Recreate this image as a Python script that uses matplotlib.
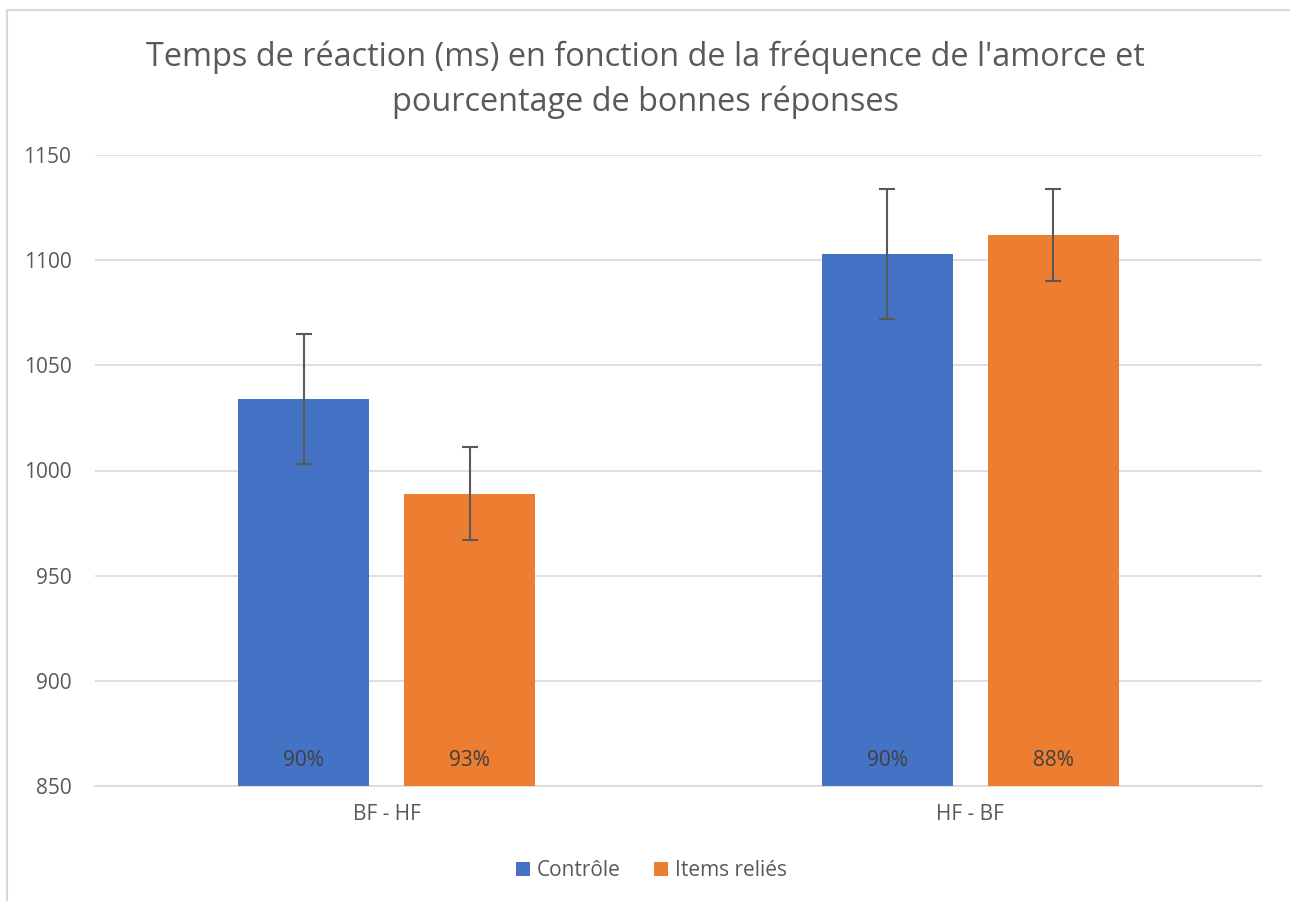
import numpy as np
import matplotlib
matplotlib.use("Agg")
import matplotlib.pyplot as plt
from matplotlib.patches import Rectangle

plt.rcParams['font.family'] = ['Open Sans', 'DejaVu Sans']

# data
categories = ['BF - HF', 'HF - BF']
series     = ['Contrôle', 'Items reliés']
controle   = [1034, 1103]
items      = [989, 1112]
err_ctrl   = [31, 31]
err_items  = [22, 22]
pct_ctrl   = ['90%', '90%']
pct_items  = ['93%', '88%']
yticks     = [850, 900, 950, 1000, 1050, 1100, 1150]

blue, orange = '#4472C4', '#ED7D31'
grey = '#595959'

fig = plt.figure(figsize=(12.9, 9.01), dpi=100)
ax = fig.add_axes([95/1290, 1-786/901, (1262-95)/1290, (786-155)/901])

# chart border (cropped on right/bottom)
fig.patches.append(Rectangle((7/1290, -0.1), 1.2, 1-10/901+0.1, transform=fig.transFigure,
                             fill=False, edgecolor='#d9d9d9', lw=1.5))

x = np.arange(len(categories))
w = 0.2245
off = 0.1425
ekw = dict(ecolor=grey, elinewidth=1.5, capsize=6, capthick=1.5)
b1 = ax.bar(x - off, [v - 850 for v in controle], w, bottom=850, color=blue, label=series[0],
            yerr=err_ctrl, error_kw=ekw, zorder=3)
b2 = ax.bar(x + off, [v - 850 for v in items], w, bottom=850, color=orange, label=series[1],
            yerr=err_items, error_kw=ekw, zorder=3)

for xs, labs in [(x - off, pct_ctrl), (x + off, pct_items)]:
    for xi, lab in zip(xs, labs):
        ax.annotate(lab, (xi, 850), xytext=(0, 25), textcoords='offset pixels',
                    ha='center', va='center', fontsize=15, color='#404040', zorder=4)

ax.set_xlim(-0.5, 1.5)
ax.set_ylim(850, 1150)
ax.set_yticks(yticks)
ax.set_xticks(x)
ax.set_xticklabels(categories)
ax.yaxis.grid(True, color='#d9d9d9', lw=1.2, zorder=0)
for s in ['top', 'right', 'left']:
    ax.spines[s].set_visible(False)
ax.spines['bottom'].set_color('#d9d9d9')
ax.spines['bottom'].set_linewidth(1.2)
ax.tick_params(axis='both', length=0, labelsize=15, colors=grey)
ax.tick_params(axis='y', pad=17)
ax.tick_params(axis='x', pad=13)

fig.text(0.5, 1-80/901, "Temps de réaction (ms) en fonction de la fréquence de l'amorce et\npourcentage de bonnes réponses",
         ha='center', va='center', fontsize=23.4, color=grey, linespacing=1.45)

leg = fig.legend(handles=[b1, b2], loc='center', bbox_to_anchor=(0.505, 1-871/901), ncol=2,
                 frameon=False, fontsize=15, handlelength=0.65, handleheight=0.65,
                 handletextpad=0.35, columnspacing=1.6, borderpad=0)
for t in leg.get_texts():
    t.set_color(grey)

fig.savefig('out.png', dpi=100)
